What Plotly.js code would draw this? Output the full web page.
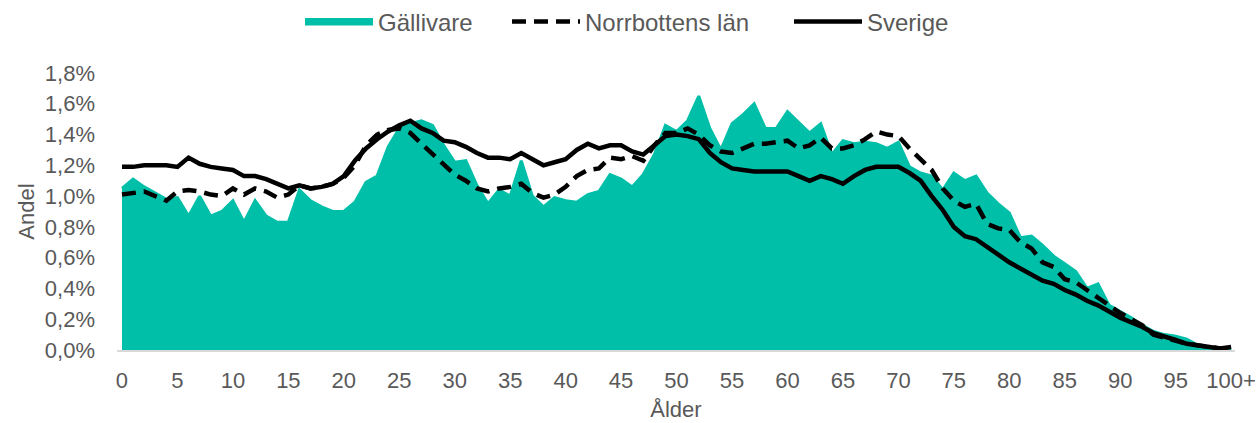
<!DOCTYPE html>
<html>
<head>
<meta charset="utf-8">
<script src="https://cdn.plot.ly/plotly-3.0.1.min.js"></script>
<style>html,body{margin:0;padding:0;background:#fff;}#chart{width:1259px;height:423px;}</style>
</head>
<body>
<div id="chart"></div>
<script>
const ages = Array.from({length: 101}, (_, i) => i);
const tickVals = [0,5,10,15,20,25,30,35,40,45,50,55,60,65,70,75,80,85,90,95,100];
const tickText = ["0","5","10","15","20","25","30","35","40","45","50","55","60","65","70","75","80","85","90","95","100+"];
const yTickVals = [0,0.2,0.4,0.6,0.8,1.0,1.2,1.4,1.6,1.8];
const yTickText = ["0,0%","0,2%","0,4%","0,6%","0,8%","1,0%","1,2%","1,4%","1,6%","1,8%"];

const gallivare = [1.05,1.11,1.06,1.02,0.98,0.99,0.87,1.00,0.87,0.90,0.97,0.83,0.97,0.87,0.83,0.83,1.04,0.97,0.93,0.90,
  0.90,0.96,1.09,1.13,1.32,1.44,1.47,1.49,1.46,1.33,1.22,1.23,1.07,0.95,1.04,1.00,1.23,1.00,0.93,0.99,
  0.97,0.96,1.01,1.03,1.14,1.11,1.06,1.14,1.27,1.46,1.42,1.49,1.65,1.44,1.30,1.47,1.53,1.60,1.44,1.44,
  1.55,1.48,1.41,1.47,1.27,1.36,1.34,1.35,1.34,1.31,1.35,1.19,1.15,1.13,1.04,1.15,1.10,1.13,1.02,0.95,
  0.89,0.73,0.74,0.68,0.61,0.56,0.51,0.40,0.43,0.29,0.25,0.21,0.16,0.12,0.10,0.09,0.07,0.03,0.02,0.01,0.01];

const norrbotten = [1.01,1.02,1.03,1.00,0.97,1.03,1.04,1.03,1.01,1.00,1.05,1.01,1.05,1.03,0.99,1.01,1.07,1.05,1.06,1.08,
  1.12,1.20,1.33,1.40,1.43,1.44,1.41,1.34,1.27,1.21,1.14,1.10,1.05,1.03,1.05,1.06,1.08,1.02,0.99,1.01,
  1.06,1.13,1.17,1.18,1.25,1.24,1.26,1.23,1.33,1.41,1.41,1.44,1.40,1.33,1.29,1.28,1.31,1.34,1.34,1.35,
  1.36,1.31,1.33,1.38,1.31,1.31,1.33,1.37,1.42,1.40,1.39,1.31,1.24,1.17,1.05,0.97,0.93,0.95,0.82,0.79,
  0.78,0.70,0.66,0.57,0.54,0.46,0.44,0.39,0.34,0.29,0.24,0.20,0.16,0.10,0.08,0.065,0.04,0.03,0.02,0.01,0.01];

const sverige = [1.19,1.19,1.20,1.20,1.20,1.19,1.25,1.21,1.19,1.18,1.17,1.13,1.13,1.11,1.08,1.05,1.07,1.05,1.06,1.08,
  1.13,1.23,1.31,1.37,1.42,1.46,1.49,1.44,1.41,1.36,1.35,1.32,1.28,1.25,1.25,1.24,1.28,1.24,1.20,1.22,
  1.24,1.30,1.34,1.31,1.33,1.33,1.29,1.27,1.33,1.39,1.40,1.39,1.37,1.28,1.22,1.18,1.17,1.16,1.16,1.16,
  1.16,1.13,1.10,1.13,1.11,1.08,1.13,1.17,1.19,1.19,1.19,1.15,1.10,1.00,0.91,0.80,0.74,0.72,0.67,0.62,
  0.57,0.53,0.49,0.45,0.43,0.39,0.36,0.32,0.29,0.25,0.21,0.18,0.15,0.11,0.09,0.065,0.04,0.03,0.02,0.01,0.02];

const font = "Liberation Sans, Arial, sans-serif";
const grey = "#595959";
const teal = "#00BFA8";

const traces = [
  {x: ages, y: gallivare, name: "Gällivare", type: "scatter", mode: "lines", legend: "legend",
   fill: "tozeroy", fillcolor: teal, line: {color: teal, width: 3}},
  {x: ages, y: norrbotten, name: "Norrbottens län", type: "scatter", mode: "lines", legend: "legend2",
   line: {color: "#000000", width: 4.5, dash: "14px,8px"}},
  {x: ages, y: sverige, name: "Sverige", type: "scatter", mode: "lines", legend: "legend3",
   line: {color: "#000000", width: 4.5}}
];

function leg(xpx) {
  return {orientation: "h", xref: "container", yref: "container", x: xpx / 1259, xanchor: "left",
          y: 1 - 22 / 423, yanchor: "middle", font: {family: font, size: 24, color: grey},
          itemwidth: 68, bgcolor: "rgba(0,0,0,0)", borderwidth: 0};
}

const layout = {
  width: 1259, height: 423,
  margin: {l: 117, r: 24, t: 73, b: 73},
  paper_bgcolor: "#ffffff", plot_bgcolor: "#ffffff",
  font: {family: font, size: 18, color: grey},
  showlegend: true,
  legend: leg(300),
  legend2: leg(507),
  legend3: leg(789),
  xaxis: {range: [-0.45, 100.35], tickmode: "array", tickvals: tickVals, ticktext: tickText,
          showgrid: false, zeroline: false, showline: true, linecolor: "#d9d9d9", linewidth: 2,
          ticks: "", ticklabelstandoff: 10, tickfont: {family: font, size: 22, color: grey},
          title: {text: "Ålder", font: {family: font, size: 22, color: grey}, standoff: 9}},
  yaxis: {range: [0, 1.8], tickmode: "array", tickvals: yTickVals, ticktext: yTickText,
          showgrid: false, zeroline: false, showline: false, ticks: "", ticklabelstandoff: 21,
          tickfont: {family: font, size: 22, color: grey},
          title: {text: "Andel", font: {family: font, size: 22, color: grey}, standoff: 4}}
};

Plotly.newPlot("chart", traces, layout, {displayModeBar: false, staticPlot: true});
</script>
</body>
</html>
